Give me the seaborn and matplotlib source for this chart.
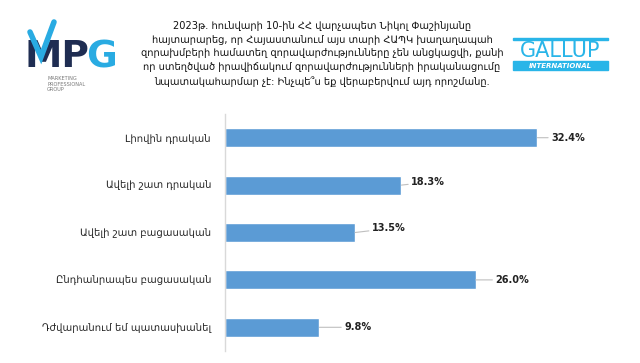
import matplotlib
matplotlib.use("Agg")
import matplotlib.pyplot as plt
import seaborn as sns
import pandas as pd
from matplotlib.patches import Rectangle
from matplotlib.lines import Line2D

# data
categories = ["Լիովին դրական", "Ավելի շատ դրական", "Ավելի շատ բացասական",
              "Ընդհանրապես բացասական", "Դժվարանում եմ պատասխանել"]
values = [32.4, 18.3, 13.5, 26.0, 9.8]
value_labels = ["32.4%", "18.3%", "13.5%", "26.0%", "9.8%"]

title_lines = [
    "2023թ. հունվարի 10-ին ՀՀ վարչապետ Նիկոլ Փաշինյանը",
    "հայտարարեց, որ Հայաստանում այս տարի ՀԱՊԿ խաղաղապահ",
    "զորախմբերի համատեղ զորավարժությունները չեն անցկացվի, քանի",
    "որ ստեղծված իրավիճակում զորավարժությունների իրականացումը",
    "նպատակահարմար չէ: Ինչպե՞ս եք վերաբերվում այդ որոշմանը.",
]

df = pd.DataFrame({"cat": categories, "val": values})

sns.set_theme(style="white")
plt.rcParams["font.family"] = ["DejaVu Sans"]

fig = plt.figure(figsize=(6.4, 3.63), dpi=100)
ax = fig.add_axes([225 / 640, 1 - 351 / 363, (601 - 225) / 640, (351 - 114) / 363])

sns.barplot(data=df, x="val", y="cat", color="#5b9bd5", width=0.4,
            saturation=1, ax=ax)

ax.set_xlim(0, 39)
ax.set_xlabel("")
ax.set_ylabel("")
ax.set_xticks([])
ax.tick_params(axis="y", length=0, pad=10, labelsize=7.2)
sns.despine(ax=ax, top=True, right=True, bottom=True, left=False)
ax.spines["left"].set_color("#d9d9d9")
ax.spines["left"].set_linewidth(1)

# data labels with leader lines (offsets in pixels)
offsets = [(14, 0), (10, 3), (17, 4), (20, 0), (25, 0)]
for i, (v, lab) in enumerate(zip(values, value_labels)):
    dx, dy = offsets[i]
    ax.annotate(lab, xy=(v, i), xytext=(dx, dy), textcoords="offset pixels",
                ha="left", va="center", fontsize=7, fontweight="bold",
                color="#222222",
                arrowprops=dict(arrowstyle="-", color="#bfbfbf", lw=0.8,
                                shrinkA=0, shrinkB=0))

# title
fig.text(322 / 640, 1 - 21 / 363, "\n".join(title_lines), ha="center", va="top",
         fontsize=7.1, linespacing=1.45, color="#111111")

# MPG logo
fig.add_artist(Line2D([30 / 640, 41 / 640, 54 / 640],
                      [1 - 32 / 363, 1 - 57 / 363, 1 - 22 / 363],
                      color="#29abe2", lw=4, transform=fig.transFigure,
                      solid_joinstyle="miter", zorder=3))
fig.text(24 / 640, 1 - 67 / 363, "MP", fontsize=27, fontweight="bold",
         color="#1f2d52", ha="left", va="baseline", zorder=2)
fig.text(86 / 640, 1 - 67 / 363, "G", fontsize=27, fontweight="bold",
         color="#29abe2", ha="left", va="baseline", zorder=2)
fig.text(47 / 640, 1 - 76 / 363, "MARKETING\nPROFESSIONAL\nGROUP", fontsize=3.6,
         color="#777777", ha="left", va="top", linespacing=1.15)

# GALLUP logo
fig.add_artist(Rectangle((513 / 640, 1 - 40 / 363), 95 / 640, 2 / 363,
                         color="#29b5e8", transform=fig.transFigure))
fig.text(560 / 640, 1 - 51 / 363, "GALLUP", fontsize=15, color="#29b5e8",
         ha="center", va="center")
fig.add_artist(Rectangle((513 / 640, 1 - 70 / 363), 95 / 640, 9 / 363,
                         color="#29b5e8", transform=fig.transFigure))
fig.text(560 / 640, 1 - 65.5 / 363, "INTERNATIONAL", fontsize=5, color="white",
         fontweight="bold", fontstyle="italic", ha="center", va="center")

fig.savefig("out.png", dpi=100)
